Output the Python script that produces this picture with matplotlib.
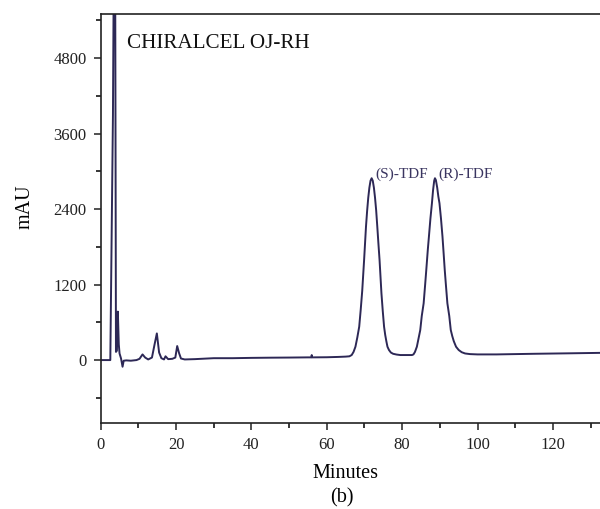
import numpy as np
import matplotlib
matplotlib.use("Agg")
import matplotlib.pyplot as plt
from matplotlib.ticker import MultipleLocator

plt.rcParams['font.family'] = ['Liberation Serif', 'DejaVu Serif']

# chromatogram (minutes, mAU)
minutes = [0.0, 1.0, 2.0, 2.55, 3.25, 3.45, 3.85, 4.05, 4.3, 4.55, 4.8, 5.0, 5.4, 5.8, 6.1,
           6.8, 8.0, 9.5, 10.3, 11.1, 11.8, 12.6, 13.6, 14.3, 14.9, 15.5, 16.1, 16.8,
           17.2, 17.9, 19.0, 19.8, 20.3, 20.8, 21.3, 22.3, 25.0, 30.0, 35.0, 40.0, 45.0,
           50.0, 55.0, 55.9, 56.0, 56.1, 60.0, 63.0, 65.0, 66.0, 66.6, 67.1, 67.6, 68.1,
           68.6, 69.0, 69.4, 69.9, 70.4, 70.7, 71.0, 71.3, 71.6, 71.9, 72.2, 72.5, 72.8,
           73.1, 73.4, 73.7, 74.0, 74.5, 74.85, 75.2, 75.5, 75.8, 76.1, 76.5, 77.0, 77.6,
           78.5, 79.5, 81.0, 82.0, 82.6, 83.0, 83.4, 83.9, 84.3, 84.8, 85.2, 85.7, 86.1,
           86.4, 86.8, 87.1, 87.5, 87.9, 88.2, 88.5, 88.7, 88.95, 89.3, 89.6, 89.9, 90.3,
           90.7, 91.0, 91.3, 91.6, 92.0, 92.5, 92.9, 93.3, 93.7, 94.3, 95.0, 95.8, 96.7,
           98.0, 100.0, 105.0, 115.0, 125.0, 133.0]
mau = [0, 0, 0, 0, 3900, 6000, 6000, 130, 150, 770, 250, 105, 25, -106, -10,
       -5, -10, 0, 20, 90, 40, 10, 40, 250, 424, 120, 30, 10,
       60, 15, 20, 40, 223, 110, 25, 10, 15, 30, 30, 35, 38,
       40, 43, 43, 80, 43, 45, 50, 55, 60, 80, 130, 212, 360,
       530, 800, 1100, 1591, 2121, 2370, 2580, 2740, 2850, 2890, 2850, 2740, 2580,
       2380, 2121, 1850, 1591, 1061, 780, 530, 400, 300, 212, 160, 120, 100,
       88, 80, 80, 80, 80, 90, 130, 212, 330, 477, 700, 902, 1200,
       1432, 1750, 1962, 2250, 2493, 2700, 2850, 2890, 2860, 2740, 2600, 2493, 2250,
       1962, 1700, 1432, 1200, 902, 700, 477, 380, 300, 212, 160, 125, 105,
       95, 90, 90, 100, 108, 115]

x_ticks = [0, 20, 40, 60, 80, 100, 120]
y_ticks = [0, 1200, 2400, 3600, 4800]
peak_labels = ["(S)-TDF", "(R)-TDF"]
label_pos = [(72.8, 2890), (89.6, 2890)]

trace_col = "#2d2856"

fig = plt.figure(figsize=(6, 5.09), dpi=100)
ax = fig.add_axes([100.7 / 600, 1 - 423 / 509, 1 - 100.7 / 600, (423 - 14) / 509])

ax.plot(minutes, mau, color=trace_col, lw=1.4)

ax.set_xlim(0, 132.5)
ax.set_ylim(-1000, 5500)
ax.set_xticks(x_ticks)
ax.set_yticks(y_ticks)
ax.xaxis.set_minor_locator(MultipleLocator(10))
ax.yaxis.set_minor_locator(MultipleLocator(600))
ax.tick_params(which='major', direction='out', length=5, width=1.1, labelsize=12, pad=5, colors='#222222')
ax.tick_params(which='minor', direction='out', length=3.5, width=1.1)
ax.spines['right'].set_visible(False)
for s in ['left', 'bottom', 'top']:
    ax.spines[s].set_linewidth(1.2)
    ax.spines[s].set_color('#222222')

ax.text(6.9, 4960, "CHIRALCEL OJ-RH", fontsize=15.2, color='#111111', va='baseline')
for lab, (px, py) in zip(peak_labels, label_pos):
    ax.text(px, py, lab, fontsize=11, color='#3a3560', va='baseline')

fig.text(25 / 600, 1 - 207 / 509, "mAU", rotation=90, fontsize=14.5, ha='center', va='center')
fig.text(345 / 600, 1 - 474 / 509, "Minutes", fontsize=14.5, ha='center', va='center')
fig.text(342 / 600, 1 - 498 / 509, "(b)", fontsize=14.5, ha='center', va='center')

fig.savefig("out.png", dpi=100)
